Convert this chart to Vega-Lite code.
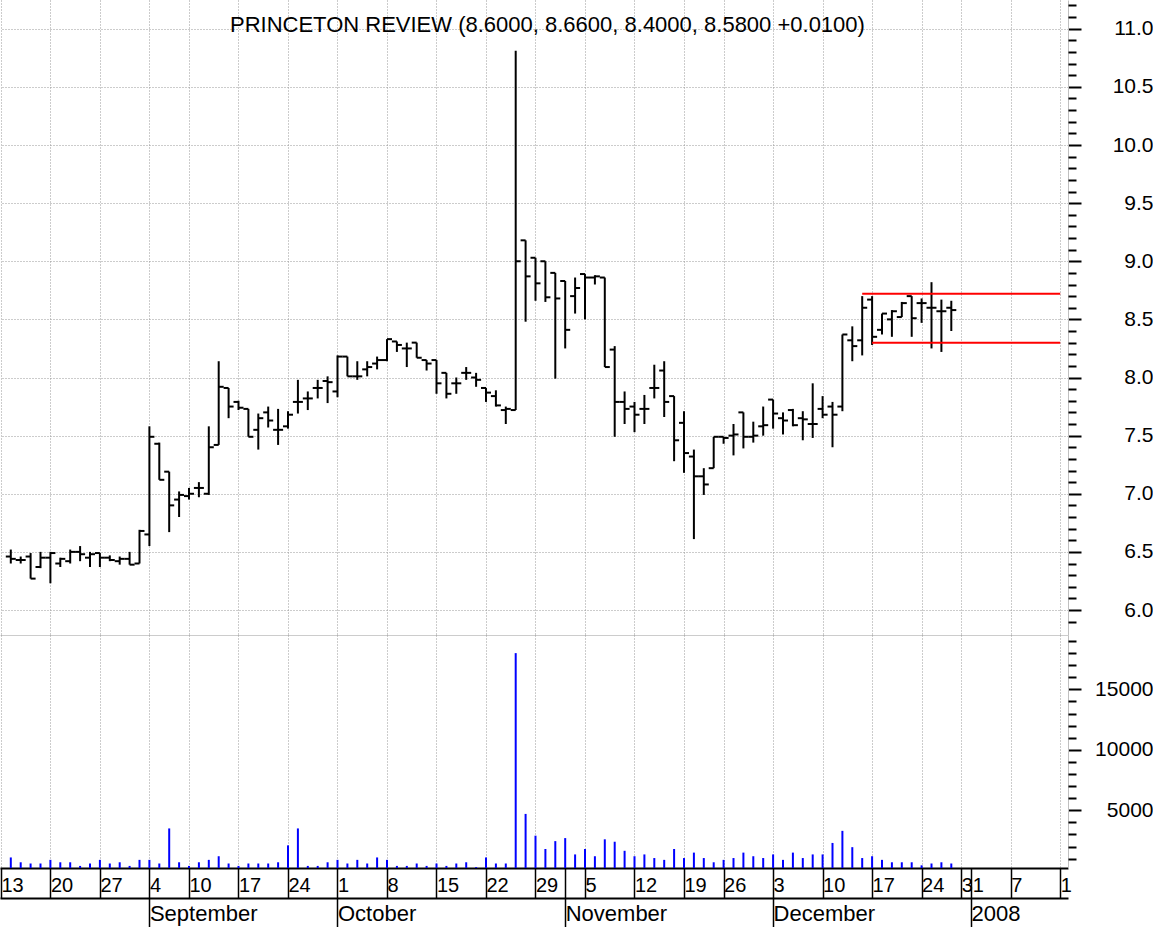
{
  "$schema": "https://vega.github.io/schema/vega-lite/v6.json",
  "padding": 0,
  "spacing": 0,
  "bounds": "flush",
  "background": "white",
  "title": {"text": "PRINCETON REVIEW (8.6000, 8.6600, 8.4000, 8.5800 +0.0100)", "anchor": "start", "frame": "group", "dx": 230, "offset": -37, "fontSize": 22, "font": "Liberation Sans", "fontWeight": "normal", "color": "#000000"},
  "config": {"view": {"stroke": null}},
  "datasets": {
    "ohlc": [
      {"date": "2007-08-14", "open": 6.46, "high": 6.52, "low": 6.40, "close": 6.44, "volume": 1100},
      {"date": "2007-08-15", "open": 6.43, "high": 6.46, "low": 6.40, "close": 6.43, "volume": 700},
      {"date": "2007-08-16", "open": 6.46, "high": 6.49, "low": 6.27, "close": 6.27, "volume": 600},
      {"date": "2007-08-17", "open": 6.37, "high": 6.50, "low": 6.36, "close": 6.45, "volume": 600},
      {"date": "2007-08-20", "open": 6.45, "high": 6.50, "low": 6.23, "close": 6.49, "volume": 900},
      {"date": "2007-08-21", "open": 6.40, "high": 6.45, "low": 6.37, "close": 6.44, "volume": 700},
      {"date": "2007-08-22", "open": 6.42, "high": 6.52, "low": 6.40, "close": 6.50, "volume": 700},
      {"date": "2007-08-23", "open": 6.50, "high": 6.55, "low": 6.42, "close": 6.48, "volume": 400},
      {"date": "2007-08-24", "open": 6.45, "high": 6.50, "low": 6.37, "close": 6.48, "volume": 600},
      {"date": "2007-08-27", "open": 6.49, "high": 6.49, "low": 6.37, "close": 6.45, "volume": 900},
      {"date": "2007-08-28", "open": 6.45, "high": 6.47, "low": 6.42, "close": 6.43, "volume": 600},
      {"date": "2007-08-29", "open": 6.42, "high": 6.46, "low": 6.39, "close": 6.44, "volume": 700},
      {"date": "2007-08-30", "open": 6.44, "high": 6.50, "low": 6.39, "close": 6.39, "volume": 400},
      {"date": "2007-08-31", "open": 6.40, "high": 6.69, "low": 6.40, "close": 6.68, "volume": 900},
      {"date": "2007-09-04", "open": 6.65, "high": 7.58, "low": 6.55, "close": 7.49, "volume": 900},
      {"date": "2007-09-05", "open": 7.43, "high": 7.44, "low": 7.12, "close": 7.12, "volume": 600},
      {"date": "2007-09-06", "open": 7.19, "high": 7.19, "low": 6.67, "close": 6.90, "volume": 3500},
      {"date": "2007-09-07", "open": 6.95, "high": 7.02, "low": 6.80, "close": 6.99, "volume": 700},
      {"date": "2007-09-10", "open": 6.98, "high": 7.05, "low": 6.95, "close": 7.00, "volume": 400},
      {"date": "2007-09-11", "open": 7.05, "high": 7.10, "low": 6.97, "close": 7.05, "volume": 700},
      {"date": "2007-09-12", "open": 7.00, "high": 7.58, "low": 6.99, "close": 7.40, "volume": 900},
      {"date": "2007-09-13", "open": 7.42, "high": 8.14, "low": 7.42, "close": 7.92, "volume": 1200},
      {"date": "2007-09-14", "open": 7.91, "high": 7.91, "low": 7.65, "close": 7.75, "volume": 600},
      {"date": "2007-09-17", "open": 7.79, "high": 7.80, "low": 7.72, "close": 7.74, "volume": 400},
      {"date": "2007-09-18", "open": 7.73, "high": 7.73, "low": 7.49, "close": 7.49, "volume": 600},
      {"date": "2007-09-19", "open": 7.55, "high": 7.69, "low": 7.38, "close": 7.65, "volume": 600},
      {"date": "2007-09-20", "open": 7.70, "high": 7.75, "low": 7.57, "close": 7.63, "volume": 600},
      {"date": "2007-09-21", "open": 7.55, "high": 7.73, "low": 7.42, "close": 7.55, "volume": 700},
      {"date": "2007-09-24", "open": 7.58, "high": 7.71, "low": 7.56, "close": 7.68, "volume": 2100},
      {"date": "2007-09-25", "open": 7.79, "high": 7.98, "low": 7.69, "close": 7.79, "volume": 3500},
      {"date": "2007-09-26", "open": 7.82, "high": 7.88, "low": 7.72, "close": 7.82, "volume": 400},
      {"date": "2007-09-27", "open": 7.91, "high": 7.98, "low": 7.82, "close": 7.91, "volume": 400},
      {"date": "2007-09-28", "open": 7.97, "high": 8.01, "low": 7.78, "close": 7.96, "volume": 700},
      {"date": "2007-10-01", "open": 7.88, "high": 8.19, "low": 7.83, "close": 8.18, "volume": 900},
      {"date": "2007-10-02", "open": 8.18, "high": 8.18, "low": 8.01, "close": 8.01, "volume": 600},
      {"date": "2007-10-03", "open": 8.01, "high": 8.14, "low": 7.98, "close": 8.01, "volume": 900},
      {"date": "2007-10-04", "open": 8.07, "high": 8.14, "low": 8.01, "close": 8.09, "volume": 600},
      {"date": "2007-10-05", "open": 8.12, "high": 8.18, "low": 8.07, "close": 8.15, "volume": 1100},
      {"date": "2007-10-08", "open": 8.15, "high": 8.33, "low": 8.14, "close": 8.33, "volume": 900},
      {"date": "2007-10-09", "open": 8.31, "high": 8.31, "low": 8.22, "close": 8.28, "volume": 400},
      {"date": "2007-10-10", "open": 8.25, "high": 8.30, "low": 8.09, "close": 8.25, "volume": 400},
      {"date": "2007-10-11", "open": 8.30, "high": 8.30, "low": 8.17, "close": 8.17, "volume": 600},
      {"date": "2007-10-12", "open": 8.15, "high": 8.15, "low": 8.06, "close": 8.12, "volume": 400},
      {"date": "2007-10-15", "open": 8.15, "high": 8.15, "low": 7.86, "close": 7.95, "volume": 600},
      {"date": "2007-10-16", "open": 8.04, "high": 8.04, "low": 7.82, "close": 7.86, "volume": 400},
      {"date": "2007-10-17", "open": 7.95, "high": 8.00, "low": 7.86, "close": 7.95, "volume": 600},
      {"date": "2007-10-18", "open": 8.04, "high": 8.09, "low": 7.98, "close": 8.04, "volume": 700},
      {"date": "2007-10-19", "open": 8.00, "high": 8.04, "low": 7.92, "close": 7.98, "volume": 300},
      {"date": "2007-10-22", "open": 7.91, "high": 7.91, "low": 7.79, "close": 7.87, "volume": 1100},
      {"date": "2007-10-23", "open": 7.84, "high": 7.89, "low": 7.75, "close": 7.76, "volume": 600},
      {"date": "2007-10-24", "open": 7.72, "high": 7.75, "low": 7.60, "close": 7.73, "volume": 600},
      {"date": "2007-10-25", "open": 7.72, "high": 10.81, "low": 7.72, "close": 9.00, "volume": 18000},
      {"date": "2007-10-26", "open": 9.18, "high": 9.18, "low": 8.48, "close": 8.87, "volume": 4700},
      {"date": "2007-10-29", "open": 9.03, "high": 9.03, "low": 8.66, "close": 8.81, "volume": 2900},
      {"date": "2007-10-30", "open": 9.00, "high": 9.00, "low": 8.65, "close": 8.69, "volume": 1800},
      {"date": "2007-10-31", "open": 8.90, "high": 8.90, "low": 7.99, "close": 8.68, "volume": 2450},
      {"date": "2007-11-01", "open": 8.83, "high": 8.83, "low": 8.25, "close": 8.41, "volume": 2700},
      {"date": "2007-11-02", "open": 8.70, "high": 8.86, "low": 8.55, "close": 8.77, "volume": 1350},
      {"date": "2007-11-05", "open": 8.89, "high": 8.89, "low": 8.50, "close": 8.86, "volume": 1800},
      {"date": "2007-11-06", "open": 8.86, "high": 8.88, "low": 8.80, "close": 8.87, "volume": 1200},
      {"date": "2007-11-07", "open": 8.86, "high": 8.86, "low": 8.09, "close": 8.09, "volume": 2600},
      {"date": "2007-11-08", "open": 8.24, "high": 8.27, "low": 7.49, "close": 7.79, "volume": 2400},
      {"date": "2007-11-09", "open": 7.79, "high": 7.88, "low": 7.60, "close": 7.73, "volume": 1650},
      {"date": "2007-11-12", "open": 7.75, "high": 7.79, "low": 7.53, "close": 7.68, "volume": 1200},
      {"date": "2007-11-13", "open": 7.73, "high": 7.85, "low": 7.60, "close": 7.73, "volume": 1350},
      {"date": "2007-11-14", "open": 7.91, "high": 8.11, "low": 7.82, "close": 7.91, "volume": 1050},
      {"date": "2007-11-15", "open": 8.06, "high": 8.14, "low": 7.66, "close": 7.79, "volume": 900},
      {"date": "2007-11-16", "open": 7.84, "high": 7.84, "low": 7.28, "close": 7.46, "volume": 1800},
      {"date": "2007-11-19", "open": 7.61, "high": 7.71, "low": 7.18, "close": 7.35, "volume": 1050},
      {"date": "2007-11-20", "open": 7.32, "high": 7.38, "low": 6.61, "close": 7.15, "volume": 1500},
      {"date": "2007-11-21", "open": 7.15, "high": 7.22, "low": 6.99, "close": 7.08, "volume": 1050},
      {"date": "2007-11-23", "open": 7.22, "high": 7.49, "low": 7.22, "close": 7.49, "volume": 700},
      {"date": "2007-11-26", "open": 7.49, "high": 7.49, "low": 7.43, "close": 7.48, "volume": 900},
      {"date": "2007-11-27", "open": 7.50, "high": 7.60, "low": 7.33, "close": 7.51, "volume": 1050},
      {"date": "2007-11-28", "open": 7.70, "high": 7.70, "low": 7.39, "close": 7.49, "volume": 1500},
      {"date": "2007-11-29", "open": 7.49, "high": 7.62, "low": 7.44, "close": 7.50, "volume": 1200},
      {"date": "2007-11-30", "open": 7.58, "high": 7.75, "low": 7.50, "close": 7.59, "volume": 1050},
      {"date": "2007-12-03", "open": 7.81, "high": 7.81, "low": 7.56, "close": 7.69, "volume": 1350},
      {"date": "2007-12-04", "open": 7.65, "high": 7.70, "low": 7.51, "close": 7.63, "volume": 900},
      {"date": "2007-12-05", "open": 7.72, "high": 7.73, "low": 7.58, "close": 7.59, "volume": 1500},
      {"date": "2007-12-06", "open": 7.65, "high": 7.71, "low": 7.46, "close": 7.64, "volume": 1050},
      {"date": "2007-12-07", "open": 7.60, "high": 7.95, "low": 7.48, "close": 7.60, "volume": 1350},
      {"date": "2007-12-10", "open": 7.73, "high": 7.84, "low": 7.65, "close": 7.68, "volume": 1350},
      {"date": "2007-12-11", "open": 7.75, "high": 7.79, "low": 7.40, "close": 7.68, "volume": 2300},
      {"date": "2007-12-12", "open": 7.75, "high": 8.37, "low": 7.71, "close": 8.37, "volume": 3300},
      {"date": "2007-12-13", "open": 8.32, "high": 8.44, "low": 8.14, "close": 8.27, "volume": 1950},
      {"date": "2007-12-14", "open": 8.32, "high": 8.70, "low": 8.19, "close": 8.60, "volume": 1050},
      {"date": "2007-12-17", "open": 8.67, "high": 8.70, "low": 8.28, "close": 8.35, "volume": 1200},
      {"date": "2007-12-18", "open": 8.41, "high": 8.55, "low": 8.37, "close": 8.55, "volume": 900},
      {"date": "2007-12-19", "open": 8.50, "high": 8.58, "low": 8.35, "close": 8.57, "volume": 700},
      {"date": "2007-12-20", "open": 8.52, "high": 8.65, "low": 8.52, "close": 8.64, "volume": 700},
      {"date": "2007-12-21", "open": 8.70, "high": 8.70, "low": 8.35, "close": 8.51, "volume": 700},
      {"date": "2007-12-24", "open": 8.64, "high": 8.68, "low": 8.47, "close": 8.64, "volume": 450},
      {"date": "2007-12-26", "open": 8.60, "high": 8.82, "low": 8.25, "close": 8.60, "volume": 600},
      {"date": "2007-12-27", "open": 8.57, "high": 8.67, "low": 8.22, "close": 8.57, "volume": 700},
      {"date": "2007-12-28", "open": 8.60, "high": 8.66, "low": 8.40, "close": 8.58, "volume": 600}
    ],
    "levels": [
      {"date": "2007-12-14", "end": "2008-01-14", "level": 8.72},
      {"date": "2007-12-17", "end": "2008-01-14", "level": 8.30}
    ]
  },
  "vconcat": [
    {
      "width": 1068,
      "height": 635,
      "data": {"name": "ohlc"},
      "resolve": {"axis": {"y": "independent"}},
      "encoding": {
        "x": {
          "field": "date", "type": "ordinal",
          "scale": {"type": "point", "padding": 0.4394, "align": 0.1034, "domain": ["2007-08-13","2007-08-14","2007-08-15","2007-08-16","2007-08-17","2007-08-20","2007-08-21","2007-08-22","2007-08-23","2007-08-24","2007-08-27","2007-08-28","2007-08-29","2007-08-30","2007-08-31","2007-09-04","2007-09-05","2007-09-06","2007-09-07","2007-09-10","2007-09-11","2007-09-12","2007-09-13","2007-09-14","2007-09-17","2007-09-18","2007-09-19","2007-09-20","2007-09-21","2007-09-24","2007-09-25","2007-09-26","2007-09-27","2007-09-28","2007-10-01","2007-10-02","2007-10-03","2007-10-04","2007-10-05","2007-10-08","2007-10-09","2007-10-10","2007-10-11","2007-10-12","2007-10-15","2007-10-16","2007-10-17","2007-10-18","2007-10-19","2007-10-22","2007-10-23","2007-10-24","2007-10-25","2007-10-26","2007-10-29","2007-10-30","2007-10-31","2007-11-01","2007-11-02","2007-11-05","2007-11-06","2007-11-07","2007-11-08","2007-11-09","2007-11-12","2007-11-13","2007-11-14","2007-11-15","2007-11-16","2007-11-19","2007-11-20","2007-11-21","2007-11-23","2007-11-26","2007-11-27","2007-11-28","2007-11-29","2007-11-30","2007-12-03","2007-12-04","2007-12-05","2007-12-06","2007-12-07","2007-12-10","2007-12-11","2007-12-12","2007-12-13","2007-12-14","2007-12-17","2007-12-18","2007-12-19","2007-12-20","2007-12-21","2007-12-24","2007-12-26","2007-12-27","2007-12-28","2007-12-31","2008-01-01","2008-01-02","2008-01-03","2008-01-04","2008-01-07","2008-01-08","2008-01-09","2008-01-10","2008-01-11","2008-01-14"]},
          "axis": {"orient": "bottom", "title": null, "values": ["2007-08-13","2007-08-20","2007-08-27","2007-09-04","2007-09-10","2007-09-17","2007-09-24","2007-10-01","2007-10-08","2007-10-15","2007-10-22","2007-10-29","2007-11-05","2007-11-12","2007-11-19","2007-11-26","2007-12-03","2007-12-10","2007-12-17","2007-12-24","2007-12-31","2008-01-07","2008-01-14"], "labels": false, "ticks": false, "domain": true, "domainColor": "#cccccc", "domainWidth": 1, "grid": true, "gridDash": [1, 2], "gridColor": "#999999", "gridWidth": 1}
        }
      },
      "layer": [
        {
          "mark": {"type": "rule", "color": "#000000", "strokeWidth": 2},
          "encoding": {
            "y": {"field": "low", "type": "quantitative", "scale": {"domain": [5.785, 11.2473], "zero": false, "nice": false},
              "axis": {"orient": "right", "title": null, "values": [6, 6.5, 7, 7.5, 8, 8.5, 9, 9.5, 10, 10.5, 11], "format": ".1f", "grid": true, "gridDash": [1, 2], "gridColor": "#999999", "gridWidth": 1, "tickSize": 13, "tickWidth": 2, "tickColor": "#000000", "domain": true, "domainColor": "#c0c0c0", "domainWidth": 1, "labelFontSize": 21, "labelFont": "Liberation Sans", "labelColor": "#000000", "labelAlign": "right", "labelBaseline": "middle", "labelPadding": 72}},
            "y2": {"field": "high"}
          }
        },
        {
          "mark": {"type": "rule", "color": "#000000", "strokeWidth": 2, "x2Offset": -5},
          "encoding": {
            "x2": {"field": "date"},
            "y": {"field": "open", "type": "quantitative", "scale": {"domain": [5.785, 11.2473], "zero": false, "nice": false},
              "axis": {"orient": "right", "title": null, "values": [5.9, 6.1, 6.2, 6.3, 6.4, 6.6, 6.7, 6.8, 6.9, 7.1, 7.2, 7.3, 7.4, 7.6, 7.7, 7.8, 7.9, 8.1, 8.2, 8.3, 8.4, 8.6, 8.7, 8.8, 8.9, 9.1, 9.2, 9.3, 9.4, 9.6, 9.7, 9.8, 9.9, 10.1, 10.2, 10.3, 10.4, 10.6, 10.7, 10.8, 10.9, 11.1, 11.2], "labels": false, "grid": false, "domain": false, "tickSize": 8, "tickWidth": 2, "tickColor": "#000000"}}
          }
        },
        {
          "mark": {"type": "rule", "color": "#000000", "strokeWidth": 2, "x2Offset": 5},
          "encoding": {
            "x2": {"field": "date"},
            "y": {"field": "close", "type": "quantitative", "scale": {"domain": [5.785, 11.2473], "zero": false, "nice": false}, "axis": null}
          }
        },
        {
          "data": {"name": "levels"},
          "mark": {"type": "rule", "color": "#ff0000", "strokeWidth": 2},
          "encoding": {
            "x2": {"field": "end"},
            "y": {"field": "level", "type": "quantitative", "scale": {"domain": [5.785, 11.2473], "zero": false, "nice": false}, "axis": null}
          }
        }
      ]
    },
    {
      "width": 1068,
      "height": 233,
      "data": {"name": "ohlc"},
      "resolve": {"axis": {"x": "independent", "y": "independent"}},
      "layer": [
        {
          "mark": {"type": "rule", "color": "#0000ff", "strokeWidth": 2, "clip": true},
          "encoding": {
            "x": {
              "field": "date", "type": "ordinal",
              "scale": {"type": "point", "padding": 0.4394, "align": 0.1034, "domain": ["2007-08-13","2007-08-14","2007-08-15","2007-08-16","2007-08-17","2007-08-20","2007-08-21","2007-08-22","2007-08-23","2007-08-24","2007-08-27","2007-08-28","2007-08-29","2007-08-30","2007-08-31","2007-09-04","2007-09-05","2007-09-06","2007-09-07","2007-09-10","2007-09-11","2007-09-12","2007-09-13","2007-09-14","2007-09-17","2007-09-18","2007-09-19","2007-09-20","2007-09-21","2007-09-24","2007-09-25","2007-09-26","2007-09-27","2007-09-28","2007-10-01","2007-10-02","2007-10-03","2007-10-04","2007-10-05","2007-10-08","2007-10-09","2007-10-10","2007-10-11","2007-10-12","2007-10-15","2007-10-16","2007-10-17","2007-10-18","2007-10-19","2007-10-22","2007-10-23","2007-10-24","2007-10-25","2007-10-26","2007-10-29","2007-10-30","2007-10-31","2007-11-01","2007-11-02","2007-11-05","2007-11-06","2007-11-07","2007-11-08","2007-11-09","2007-11-12","2007-11-13","2007-11-14","2007-11-15","2007-11-16","2007-11-19","2007-11-20","2007-11-21","2007-11-23","2007-11-26","2007-11-27","2007-11-28","2007-11-29","2007-11-30","2007-12-03","2007-12-04","2007-12-05","2007-12-06","2007-12-07","2007-12-10","2007-12-11","2007-12-12","2007-12-13","2007-12-14","2007-12-17","2007-12-18","2007-12-19","2007-12-20","2007-12-21","2007-12-24","2007-12-26","2007-12-27","2007-12-28","2007-12-31","2008-01-01","2008-01-02","2008-01-03","2008-01-04","2008-01-07","2008-01-08","2008-01-09","2008-01-10","2008-01-11","2008-01-14"]},
              "axis": {"orient": "bottom", "title": null, "values": ["2007-08-13","2007-08-20","2007-08-27","2007-09-04","2007-09-10","2007-09-17","2007-09-24","2007-10-01","2007-10-08","2007-10-15","2007-10-22","2007-10-29","2007-11-05","2007-11-12","2007-11-19","2007-11-26","2007-12-03","2007-12-10","2007-12-17","2007-12-24","2007-12-31","2008-01-07","2008-01-14"], "labels": false, "ticks": false, "domain": false, "grid": true, "gridDash": [1, 2], "gridColor": "#999999", "gridWidth": 1}
            },
            "y": {"field": "volume", "type": "quantitative", "scale": {"domain": [227, 19499], "zero": false, "nice": false},
              "axis": {"orient": "right", "title": null, "values": [5000, 10000, 15000], "format": "d", "grid": false, "tickSize": 13, "tickWidth": 2, "tickColor": "#000000", "domain": true, "domainColor": "#c0c0c0", "domainWidth": 1, "labelFontSize": 21, "labelFont": "Liberation Sans", "labelColor": "#000000", "labelAlign": "right", "labelBaseline": "middle", "labelPadding": 72}},
            "y2": {"datum": 0}
          }
        },
        {
          "mark": {"type": "rule", "opacity": 0},
          "encoding": {
            "x": {
              "field": "date", "type": "ordinal",
              "axis": {"orient": "bottom", "title": null, "values": ["2007-08-13","2007-08-20","2007-08-27","2007-09-04","2007-09-10","2007-09-17","2007-09-24","2007-10-01","2007-10-08","2007-10-15","2007-10-22","2007-10-29","2007-11-01","2007-11-05","2007-11-12","2007-11-19","2007-11-26","2007-12-03","2007-12-10","2007-12-17","2007-12-24","2007-12-31","2008-01-01","2008-01-07","2008-01-14"],
                "labelExpr": "datum.value == '2008-01-14' ? '1' : (datum.value == '2007-11-01' || datum.value == '2008-01-01') ? '' : '' + toNumber(slice(datum.value, 8))",
                "grid": false, "tickSize": 30, "tickWidth": 1.5, "tickColor": "#000000",
                "domain": true, "domainColor": "#000000", "domainWidth": 2,
                "labelAngle": 0, "labelAlign": "left", "labelBaseline": "middle", "labelPadding": -13, "labelDx": 3,
                "labelFontSize": 20, "labelFont": "Liberation Sans", "labelColor": "#000000", "labelOverlap": false, "labelBound": false, "labelFlush": false}
            },
            "y": {"field": "volume", "type": "quantitative", "scale": {"domain": [227, 19499], "zero": false, "nice": false},
              "axis": {"orient": "right", "title": null, "values": [1000, 2000, 3000, 4000, 6000, 7000, 8000, 9000, 11000, 12000, 13000, 14000, 16000, 17000, 18000, 19000], "labels": false, "grid": false, "domain": false, "tickSize": 8, "tickWidth": 2, "tickColor": "#000000"}}
          }
        },
        {
          "mark": {"type": "rule", "opacity": 0},
          "encoding": {
            "x": {
              "field": "date", "type": "ordinal",
              "axis": {"orient": "bottom", "title": null, "offset": 30, "values": ["2007-09-04", "2007-10-01", "2007-11-01", "2007-12-03", "2008-01-01"],
                "labelExpr": "datum.value == '2008-01-01' ? '2008' : utcFormat(toDate(datum.value), '%B')",
                "grid": false, "tickSize": 29, "tickWidth": 1.5, "tickColor": "#000000",
                "domain": true, "domainColor": "#000000", "domainWidth": 2,
                "labelAngle": 0, "labelAlign": "left", "labelBaseline": "middle", "labelPadding": -14, "labelDx": 4,
                "labelFontSize": 22, "labelFont": "Liberation Sans", "labelColor": "#000000", "labelOverlap": false, "labelBound": false, "labelFlush": false}
            },
            "y": {"field": "volume", "type": "quantitative", "scale": {"domain": [227, 19499], "zero": false, "nice": false}, "axis": null}
          }
        }
      ]
    }
  ]
}
